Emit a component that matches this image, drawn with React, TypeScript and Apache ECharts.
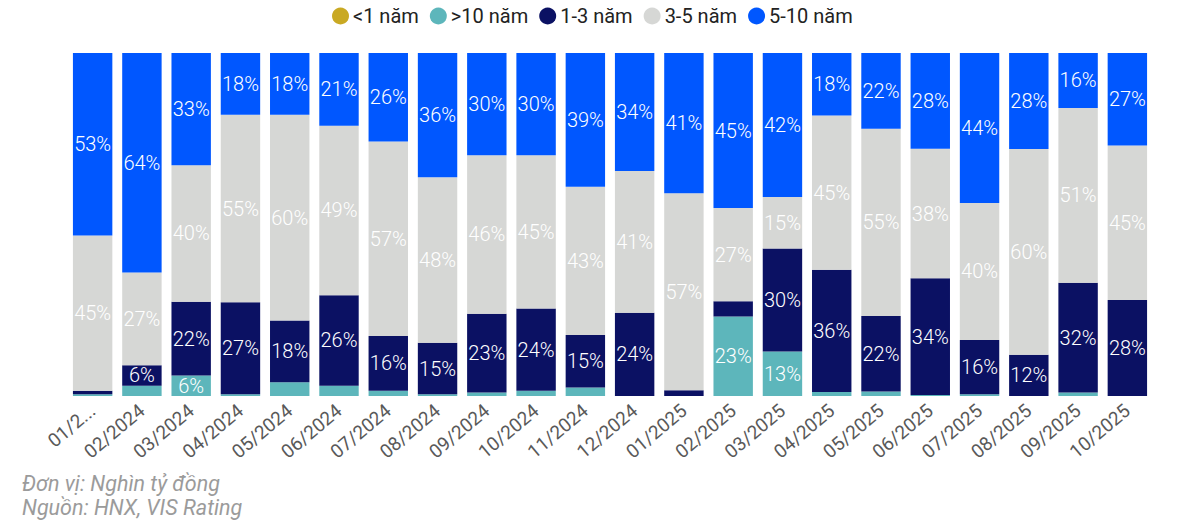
import React, { useEffect, useRef } from "react";
import * as echarts from "echarts";

const categories = [
  "01/2024", "02/2024", "03/2024", "04/2024", "05/2024", "06/2024", "07/2024", "08/2024",
  "09/2024", "10/2024", "11/2024", "12/2024", "01/2025", "02/2025", "03/2025", "04/2025",
  "05/2025", "06/2025", "07/2025", "08/2025", "09/2025", "10/2025",
];

const under1 = [0, 0, 0, 0, 0, 0, 0, 0, 0, 0, 0, 0, 0, 0, 0, 0, 0, 0, 0, 0, 0, 0];
const over10 = [0.5, 3, 6, 0.5, 4, 3, 1.5, 0.5, 1, 1.5, 2.5, 0, 0, 23.2, 13, 1.2, 1.3, 0.3, 0.5, 0, 1, 0];
const y1to3 = [1, 6, 21.5, 26.8, 18, 26.4, 16, 15, 23, 24, 15.3, 24.3, 1.7, 4.4, 30, 35.6, 22, 34, 15.8, 12, 32, 28];
const y3to5 = [45.3, 27, 39.8, 54.7, 60, 49.4, 56.7, 48.3, 46.2, 44.7, 43.2, 41.3, 57.4, 27.2, 15, 45, 54.6, 37.8, 40, 60, 51, 45];
const y5to10 = [53.2, 64, 32.7, 18, 18, 21.2, 25.8, 36.2, 29.8, 29.8, 39, 34.4, 40.9, 45.2, 42, 18.2, 22.1, 27.9, 43.7, 28, 16, 27];

const seriesNames = ["<1 năm", ">10 năm", "1-3 năm", "3-5 năm", "5-10 năm"];
const seriesColors = ["#C9A923", "#5DB6BB", "#0B1163", "#D6D7D5", "#0057FF"];
const seriesData = [under1, over10, y1to3, y3to5, y5to10];

export default function App() {
  const ref = useRef<HTMLDivElement>(null);
  useEffect(() => {
    if (!ref.current) return;
    const chart = echarts.init(ref.current, null, { renderer: "svg" });
    const font = "Roboto, 'Noto Sans', sans-serif";
    chart.setOption({
      animation: false,
      textStyle: { fontFamily: font },
      legend: {
        top: 1,
        left: 327,
        icon: "circle",
        itemWidth: 17,
        itemHeight: 17,
        itemGap: 11,
        textStyle: { fontSize: 20, color: "#222", fontFamily: font, fontWeight: "normal", padding: [0, 0, 0, -1] },
        data: seriesNames,
      },
      grid: { left: 68, right: 48, top: 53, bottom: 133, containLabel: false },
      xAxis: {
        type: "category",
        data: categories,
        axisLine: { show: false },
        axisTick: { show: false },
        axisLabel: {
          rotate: 40,
          fontSize: 19,
          color: "#595959",
          margin: 12,
          interval: 0,
          fontWeight: "normal",
          formatter: (v: string, i: number) => (i === 0 ? "01/2..." : v),
        },
      },
      yAxis: {
        type: "value",
        min: 0,
        max: 100,
        show: false,
        splitLine: { show: false },
      },
      series: seriesNames.map((name, si) => ({
        name,
        type: "bar",
        stack: "total",
        barCategoryGap: "20%",
        data: seriesData[si],
        itemStyle: { color: seriesColors[si] },
        label: {
          show: true,
          position: "inside",
          color: "#fff",
          fontSize: 20,
          fontWeight: 300,
          fontFamily: font,
          formatter: (p: any) => (p.value >= 5 ? Math.round(p.value) + "%" : ""),
        },
      })),
      graphic: [
        {
          type: "text",
          left: 22,
          top: 472,
          style: {
            text: "Đơn vị: Nghìn tỷ đồng",
            fontSize: 21.5,
            fontStyle: "italic",
            fill: "#9B9B9B",
            fontFamily: font,
          },
        },
        {
          type: "text",
          left: 22,
          top: 496,
          style: {
            text: "Nguồn: HNX, VIS Rating",
            fontSize: 21.5,
            fontStyle: "italic",
            fill: "#9B9B9B",
            fontFamily: font,
          },
        },
      ],
    });
    return () => chart.dispose();
  }, []);
  return (
    <div
      ref={ref}
      style={{ position: "absolute", left: 0, top: 0, width: 1200, height: 529 }}
    />
  );
}
